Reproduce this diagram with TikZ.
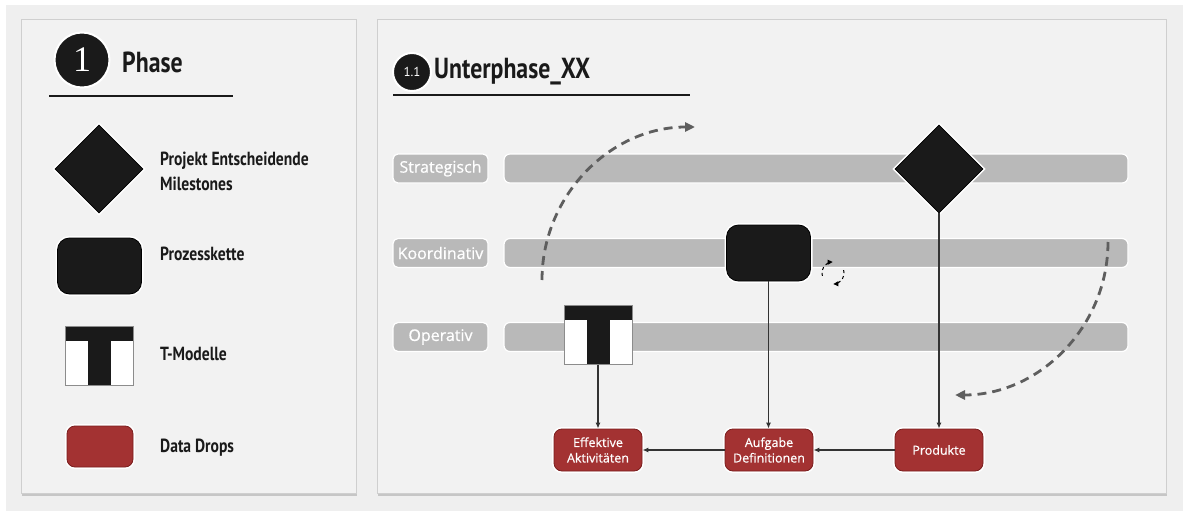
\documentclass[tikz,border=0pt]{standalone}
\usepackage{fontspec}
\newfontfamily\condfont[FakeStretch=0.82]{PT Sans}
\newfontfamily\labelfont[FakeBold=0.6]{Open Sans}
\newfontfamily\digitfont{Liberation Serif}
\newfontfamily\smalldigitfont{PT Sans}
\usetikzlibrary{shapes.geometric,arrows.meta,shadows,calc}

\definecolor{ink}{HTML}{1A1A1A}
\definecolor{pagebg}{HTML}{EFEFEF}
\definecolor{panelbg}{HTML}{F2F2F2}
\definecolor{panelline}{HTML}{CFCFCF}
\definecolor{bargray}{HTML}{B9B9B9}
\definecolor{dropred}{HTML}{A33232}
\definecolor{dropline}{HTML}{7A1E1E}
\definecolor{dashgray}{HTML}{5E5E5E}
\definecolor{connline}{HTML}{333333}

\tikzset{
  panel/.style={draw=panelline, line width=0.8, fill=panelbg, inner sep=0,
    drop shadow={shadow xshift=0.5pt, shadow yshift=-3pt, opacity=0.25, fill=black!70}},
  halo/.style={preaction={draw=white, line width=4}},
  numdisc/.style={circle, fill=ink, draw=white, line width=2, inner sep=0, text=white},
  title/.style={anchor=west, font=\condfont\bfseries\fontsize{29}{29}\selectfont, text=ink, inner sep=0},
  legendtext/.style={anchor=west, align=left, font=\condfont\bfseries\fontsize{19}{25}\selectfont, text=ink, inner sep=0},
  milestone/.style={diamond, aspect=1, fill=ink, draw=black, line width=0.6, halo, inner sep=0,
    minimum width=88, minimum height=88},
  chain/.style={rectangle, rounded corners=12, fill=ink, draw=black, line width=0.8, halo, inner sep=0,
    minimum width=84, minimum height=56},
  tbox/.style={rectangle, inner sep=0, minimum width=68, minimum height=59},
  drop/.style={rectangle, rounded corners=8, fill=dropred, draw=dropline, line width=0.8, halo,
    inner sep=0, minimum width=88, minimum height=42, text=white, align=center,
    font=\labelfont\fontsize{12.5}{15.5}\selectfont},
  legenddrop/.style={drop, minimum width=66, minimum height=41},
  rowlabel/.style={rectangle, rounded corners=5, fill=bargray, draw=white, line width=1.2, inner sep=0,
    minimum width=95, minimum height=29, text=white, font=\labelfont\fontsize{16}{16}\selectfont},
  rowbar/.style={rectangle, rounded corners=6, fill=bargray, draw=white, line width=1.2, inner sep=0,
    minimum width=624, minimum height=29},
  conn/.style={draw=connline, line width=1.2, -{Latex[length=6,width=5]}},
  cycle/.style={draw=dashgray, line width=2.8, dash pattern=on 9pt off 6pt,
    -{Triangle[length=10,width=9]}},
  spin/.style={draw=black, line width=1, dash pattern=on 3pt off 3pt,
    -{Triangle[length=5,width=5]}},
  tmodel/.pic={
    \fill[white] (-34,-29.5) rectangle (34,29.5);
    \fill[ink] (-34,-29.5) rectangle (34,-15);
    \fill[ink] (-11.5,-15) rectangle (11.5,29.5);
    \draw[black!45, line width=0.8] (-34,-29.5) rectangle (34,29.5);
  }
}

\begin{document}
\begin{tikzpicture}[x=1pt, y=-1pt]
\useasboundingbox (0,0) rectangle (1183,511);
\fill[white] (0,0) rectangle (1183,511);
\fill[pagebg] (6,5) rectangle (1183,511);

% the two panels
\node[panel, minimum width=335, minimum height=474, anchor=north west] (legend) at (21,19) {};
\node[panel, minimum width=789, minimum height=474, anchor=north west] (main) at (377,19) {};

% ---- legend panel ----
\node[numdisc, minimum size=55, font=\digitfont\fontsize{36}{36}\selectfont] (n1) at (82,60) {1};
\node[title] (phase) at (122,62) {Phase};
\draw[ink, line width=2] (49,95.5) -- (233,95.5);

\node[milestone] (lgms) at (99,169) {};
\node[legendtext] (lgmstxt) at (160,171) {Projekt Entscheidende\\Milestones};

\node[chain] (lgpk) at (99.5,266) {};
\node[legendtext] (lgpktxt) at (160,254) {Prozesskette};

\node[tbox] (lgtm) at (99.5,355.5) {};
\pic at (lgtm) {tmodel};
\node[legendtext] (lgtmtxt) at (160,354) {T-Modelle};

\node[legenddrop] (lgdd) at (100,446.5) {};
\node[legendtext] (lgddtxt) at (160,448) {Data Drops};

% ---- main panel ----
\node[numdisc, minimum size=38, font=\smalldigitfont\fontsize{13}{13}\selectfont] (n11) at (412,72) {1.1};
\node[title] (sub) at (434,72) {Unterphase\_XX};
\draw[ink, line width=2] (393,95) -- (690,95);

% levels
\node[rowbar] (barS) at (816,168.5) {};
\node[rowbar] (barK) at (816,253) {};
\node[rowbar] (barO) at (816,337) {};
\node[rowlabel] (labS) at (440.5,168.5) {Strategisch};
\node[rowlabel] (labK) at (440.5,253) {Koordinativ};
\node[rowlabel] (labO) at (440.5,337) {Operativ};

% cycle arrows
\coordinate (cycA) at (542,280);
\coordinate (cycB) at (1108,242);
\draw[cycle] (cycA) arc[start angle=180, end angle=270, radius=153];
\draw[cycle] (cycB) arc[start angle=0, end angle=90, radius=153];

% elements on the levels
\node[milestone] (ms) at (939,169) {};
\node[chain] (pk) at (768.5,253) {};
\node[tbox] (tm) at (598,335) {};
\pic at (tm) {tmodel};

% small refresh marker
\coordinate (spinL) at ($(833,273)+(165:11)$);
\coordinate (spinR) at ($(833,273)+(-15:11)$);
\draw[spin] (spinL) arc[start angle=165, end angle=268, radius=11];
\draw[spin] (spinR) arc[start angle=-15, end angle=88, radius=11];

% data drops
\node[drop] (eff) at (598,450) {Effektive\\Aktivitäten};
\node[drop] (auf) at (769,450) {Aufgabe\\Definitionen};
\node[drop] (prod) at (939,450) {Produkte};

% connectors
\draw[conn] (tm.south) -- (eff.north);
\draw[conn] (pk.south) -- (pk.south |- auf.north);
\draw[conn] (ms.south) -- (prod.north);
\draw[conn] (prod.west) -- (auf.east);
\draw[conn] (auf.west) -- (eff.east);
\end{tikzpicture}
\end{document}
